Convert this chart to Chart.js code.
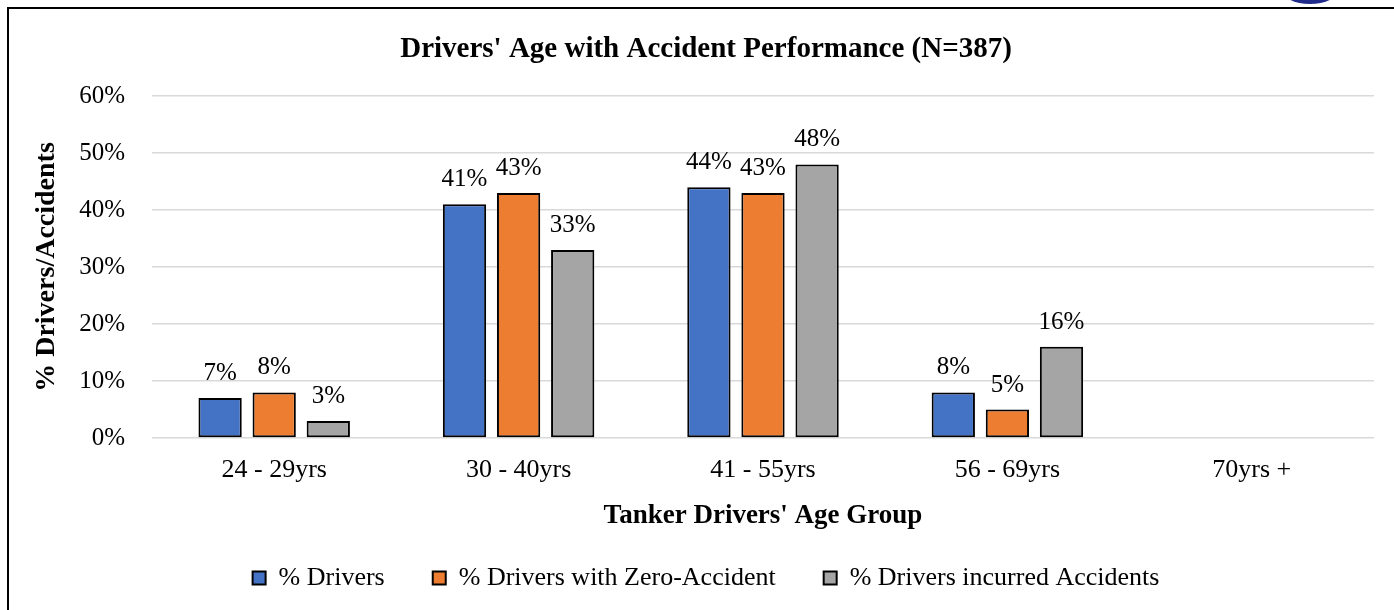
<!DOCTYPE html>
<html>
<head>
<meta charset="utf-8">
<script src="https://cdn.jsdelivr.net/npm/chart.js@4/dist/chart.umd.min.js"></script>
<style>
  html, body { margin: 0; padding: 0; background: #fff; overflow: hidden; }
  #frame {
    position: absolute; left: 7px; top: 7px; width: 1500px; height: 700px;
    border-left: 2px solid #000; border-top: 2px solid #000;
  }
  #logo {
    position: absolute; left: 1282px; top: -24px; width: 56px; height: 28px;
    border-radius: 50%; background: #1f2a8a;
  }
  #wrap { position: absolute; left: 0; top: 0; width: 1394px; height: 610px; }
</style>
</head>
<body>
<div id="frame"></div>
<div id="logo"></div>
<div id="wrap"><canvas id="chart" width="1394" height="610"></canvas></div>
<script>
const ageGroups = ["24 - 29yrs", "30 - 40yrs", "41 - 55yrs", "56 - 69yrs", "70yrs +"];
const pctDrivers = [7, 41, 44, 8, null];
const pctZeroAccident = [8, 43, 43, 5, null];
const pctIncurred = [3, 33, 48, 16, null];
const yTicks = [0, 10, 20, 30, 40, 50, 60];

const serif = "'Liberation Serif', 'Times New Roman', serif";

// draws the "7%" style labels above each bar
const valueLabels = {
  id: "valueLabels",
  afterDatasetsDraw(chart) {
    const ctx = chart.ctx;
    ctx.save();
    ctx.font = "25px " + serif;
    ctx.fillStyle = "#000";
    ctx.textAlign = "center";
    ctx.textBaseline = "alphabetic";
    chart.data.datasets.forEach((ds, i) => {
      chart.getDatasetMeta(i).data.forEach((bar, j) => {
        const v = ds.data[j];
        if (v === null || v === undefined) return;
        ctx.fillText(v + "%", bar.x, bar.y - 18);
      });
    });
    ctx.restore();
  },
};

const barStyle = { borderColor: "#000", borderWidth: 2, borderSkipped: false };

new Chart(document.getElementById("chart"), {
  type: "bar",
  data: {
    labels: ageGroups,
    datasets: [
      { label: "% Drivers", data: pctDrivers, backgroundColor: "#4472C4", ...barStyle },
      { label: "% Drivers with Zero-Accident", data: pctZeroAccident, backgroundColor: "#ED7D31", ...barStyle },
      { label: "% Drivers incurred Accidents", data: pctIncurred, backgroundColor: "#A5A5A5", ...barStyle },
    ],
  },
  options: {
    responsive: false,
    animation: false,
    categoryPercentage: 0.664,
    barPercentage: 0.8,
    layout: { padding: { left: 38, right: 20, top: 10, bottom: 9 } },
    scales: {
      x: {
        grid: { display: false, drawTicks: false },
        border: { display: false },
        ticks: { color: "#000", font: { family: serif, size: 26 }, padding: 17 },
        title: {
          display: true,
          text: "Tanker Drivers' Age Group",
          color: "#000",
          font: { family: serif, size: 27, weight: "bold" },
          padding: { top: 0, bottom: -15 },
        },
        afterFit: (s) => { s.height = 79; },
      },
      y: {
        min: 0,
        max: 60,
        afterBuildTicks: (s) => { s.ticks = yTicks.map((v) => ({ value: v })); },
        grid: { color: "#d9d9d9", lineWidth: 1.5, drawTicks: false },
        border: { display: false },
        ticks: { color: "#000", font: { family: serif, size: 25 }, padding: 27, callback: (v) => v + "%" },
        title: {
          display: true,
          text: "% Drivers/Accidents",
          color: "#000",
          font: { family: serif, size: 28, weight: "bold" },
          padding: { top: -8, bottom: 0 },
        },
        afterFit: (s) => { s.width = 114; },
      },
    },
    plugins: {
      title: {
        display: true,
        text: "Drivers' Age with Accident Performance (N=387)",
        color: "#000",
        font: { family: serif, size: 29, weight: "bold" },
        padding: { top: 22.6, bottom: 28.6 },
      },
      legend: {
        position: "bottom",
        labels: {
          color: "#000",
          font: { family: serif, size: 26 },
          boxWidth: 13,
          boxHeight: 13,
          padding: 48,
        },
      },
      tooltip: { enabled: false },
    },
  },
  plugins: [valueLabels],
});
</script>
</body>
</html>
